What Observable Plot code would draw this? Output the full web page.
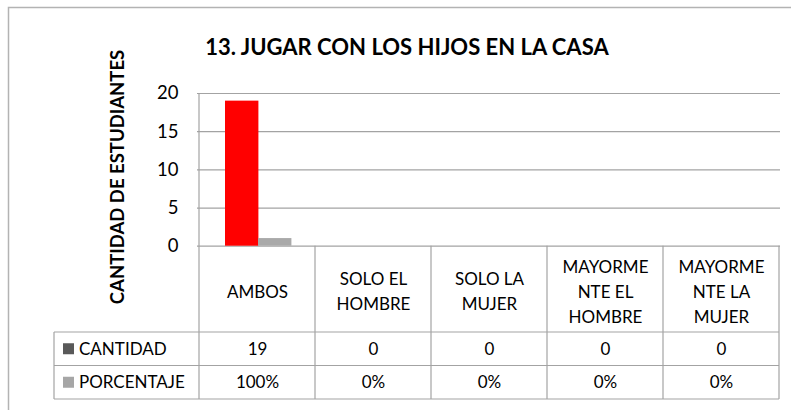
<!DOCTYPE html>
<html>
<head>
<meta charset="utf-8">
<script src="https://cdn.jsdelivr.net/npm/d3@7"></script>
<script src="https://cdn.jsdelivr.net/npm/@observablehq/plot@0.6"></script>
<style>
  html, body { margin: 0; padding: 0; background: #ffffff; }
  #chart { width: 791px; height: 410px; overflow: hidden; }
  svg text { font-family: Lato, "Open Sans", sans-serif; }
</style>
</head>
<body>
<div id="chart"></div>
<script>
const title = "13. JUGAR CON LOS HIJOS EN LA CASA";
const yLabel = "CANTIDAD DE ESTUDIANTES";
const categories = ["AMBOS", "SOLO EL HOMBRE", "SOLO LA MUJER", "MAYORMENTE EL HOMBRE", "MAYORMENTE LA MUJER"];
const categoryLabels = ["AMBOS", "SOLO EL\nHOMBRE", "SOLO LA\nMUJER", "MAYORME\nNTE EL\nHOMBRE", "MAYORME\nNTE LA\nMUJER"];
const seriesNames = ["CANTIDAD", "PORCENTAJE"];
const cantidad = [19, 0, 0, 0, 0];
const porcentaje = [1, 0, 0, 0, 0];
const yTicks = [0, 5, 10, 15, 20];

const colRed = "#ff0000";
const colGrey = "#a9a9a9";
const keyColors = ["#595959", "#a6a6a6"];
const lineCol = "#a3a3a3";

const cantData = categories.map((c, i) => ({cat: c, value: cantidad[i]}));
const pctData = categories.map((c, i) => ({cat: c, value: porcentaje[i], label: d3.format(".0%")(porcentaje[i])}));
const labelData = categories.map((c, i) => ({cat: c, label: categoryLabels[i]}));

const W = 791, H = 410;
const mL = 197, mR = 11, mT = 93, mB = 164.3;
const FONT = 'Lato, "Open Sans", sans-serif';

const plot = Plot.plot({
  width: W,
  height: H,
  marginLeft: mL,
  marginRight: mR,
  marginTop: mT,
  marginBottom: mB,
  style: {fontFamily: FONT, background: "transparent", overflow: "visible"},
  x: {type: "band", domain: categories, padding: 0, axis: null},
  y: {domain: [0, 20], axis: null},
  marks: [
    Plot.gridY(yTicks, {stroke: lineCol, strokeOpacity: 1, strokeWidth: 1.2}),
    Plot.axisY(yTicks, {tickSize: 0, tickPadding: 19, fontSize: 18.5, fill: "#000", label: null}),
    Plot.barY(cantData, {x: "cat", y: "value", fill: colRed, insetLeft: 26, insetRight: 56.6, ariaLabel: "cantidad-bars"}),
    Plot.barY(pctData, {x: "cat", y: "value", fill: colGrey, insetLeft: 59, insetRight: 23.6, ariaLabel: "porcentaje-bars"}),
    Plot.text(labelData, {x: "cat", text: "label", frameAnchor: "bottom", lineAnchor: "middle", dy: 43.5, lineHeight: 1.48, fontSize: 17, fill: "#000"}),
    Plot.text(cantData, {x: "cat", text: d => String(d.value), frameAnchor: "bottom", lineAnchor: "middle", dy: 103, fontSize: 17, fill: "#000"}),
    Plot.text(pctData, {x: "cat", text: "label", frameAnchor: "bottom", lineAnchor: "middle", dy: 136.5, fontSize: 17, fill: "#000"})
  ]
});

document.getElementById("chart").appendChild(plot);
const svg = d3.select(plot);

// drop-shadow filter for 3D-like bars
const defs = svg.insert("defs", ":first-child");
const f = defs.append("filter").attr("id", "barShadow").attr("x", "-40%").attr("y", "-10%").attr("width", "180%").attr("height", "120%");
f.append("feDropShadow").attr("dx", -3).attr("dy", -1).attr("stdDeviation", 2).attr("flood-color", "#6f6f6f").attr("flood-opacity", 0.6);
svg.select('g[aria-label="cantidad-bars"]').attr("filter", "url(#barShadow)");
svg.select('g[aria-label="porcentaje-bars"]').attr("filter", "url(#barShadow)");

// geometry from the library's scales
const xs = plot.scale("x");
const ys = plot.scale("y");
const bw = xs.bandwidth;
const xLeft = xs.apply(categories[0]);
const xRight = xs.apply(categories[categories.length - 1]) + bw;
const y0 = ys.apply(0);
const yTop = ys.apply(20);
const tableTop = 332, rowH = 33.5;
const tableLeft = 54;

const g = svg.append("g").attr("stroke", lineCol).attr("stroke-width", 1.2).attr("fill", "none");
// outer chart border
svg.insert("rect", ":first-child").attr("x", 8.5).attr("y", 7.5).attr("width", 900).attr("height", 600)
  .attr("fill", "#fff").attr("stroke", "#b3b3b3").attr("stroke-width", 1.5);
// value axis line
g.append("line").attr("x1", xLeft).attr("x2", xLeft).attr("y1", yTop).attr("y2", tableTop + 2 * rowH);
// column boundaries through label area and table
categories.forEach((c, i) => {
  const xb = xs.apply(c) + bw;
  g.append("line").attr("x1", xb).attr("x2", xb).attr("y1", y0).attr("y2", tableTop + 2 * rowH);
});
// table horizontal lines
[0, 1, 2].forEach(k => {
  const yy = tableTop + k * rowH;
  g.append("line").attr("x1", tableLeft).attr("x2", xRight).attr("y1", yy).attr("y2", yy);
});
g.append("line").attr("x1", tableLeft).attr("x2", tableLeft).attr("y1", tableTop).attr("y2", tableTop + 2 * rowH);

// legend keys + row labels
seriesNames.forEach((s, i) => {
  const cy = tableTop + rowH * (i + 0.5);
  svg.append("rect").attr("x", 63).attr("y", cy - 5.5).attr("width", 11).attr("height", 11).attr("fill", keyColors[i]);
  svg.append("text").attr("x", 79).attr("y", cy).attr("dy", "0.35em").attr("text-anchor", "start")
    .attr("font-size", 17).attr("fill", "#000").text(s);
});

// title
svg.append("text").attr("x", 407).attr("y", 47).attr("dy", "0.35em").attr("text-anchor", "middle")
  .attr("font-size", 22).attr("font-weight", "bold").attr("fill", "#000").text(title);
// y label
svg.append("text").attr("transform", "translate(118,177) rotate(-90)").attr("dy", "0.35em").attr("text-anchor", "middle")
  .attr("font-size", 18.5).attr("font-weight", "bold").attr("fill", "#000").text(yLabel);
</script>
</body>
</html>
